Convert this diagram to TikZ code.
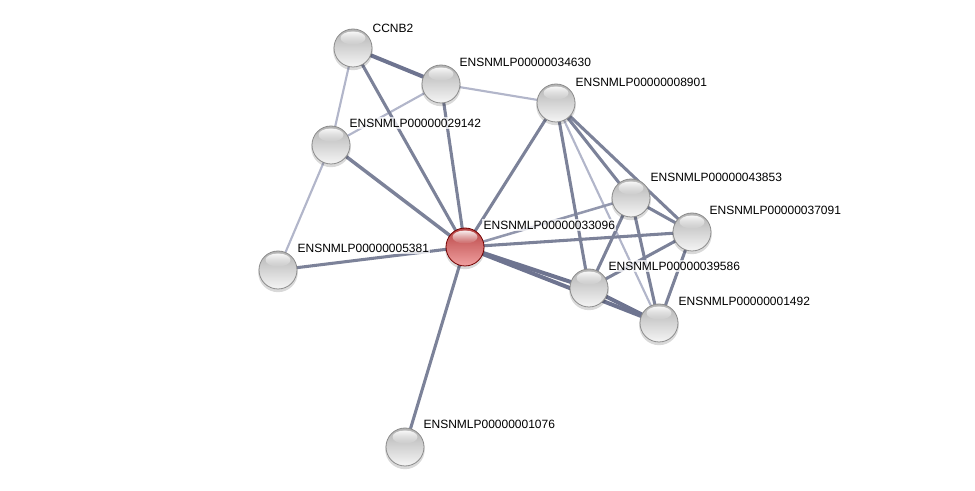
\documentclass[tikz,border=0pt]{standalone}
\usepackage{fontspec}
\setmainfont{Liberation Sans}
\usetikzlibrary{fadings}
\definecolor{estrong}{HTML}{6E7490}
\definecolor{emed}{HTML}{7C8299}
\definecolor{elight}{HTML}{B2B6CA}
\definecolor{rtop}{HTML}{B84444}
\definecolor{rmid}{HTML}{D46262}
\definecolor{rbot}{HTML}{F0A0A0}
\tikzset{
 nd/.style={circle,minimum size=28.5pt,inner sep=0pt,top color=black!30,middle color=black!15,bottom color=black!4,draw=black!45,line width=0.6pt},
 rednd/.style={circle,minimum size=28.5pt,inner sep=0pt,top color=rtop,middle color=rmid,bottom color=rbot,draw=red!45!black,line width=0.6pt},
 lbl/.style={anchor=west,font=\fontsize{9pt}{10pt}\selectfont,inner sep=1pt,fill=white,fill opacity=0.75,text opacity=1},
 es/.style={draw=estrong,line width=3pt},
 em/.style={draw=emed,line width=2.3pt},
 el/.style={draw=elight,line width=1.6pt},
 hl/.style={fill=white,path fading=south,fill opacity=0.9},
}
\begin{document}
\begin{tikzpicture}[x=0.75pt,y=-0.75pt]
\useasboundingbox (0,0) rectangle (975,491);
% coordinates
\coordinate (cc) at (353,48);
\coordinate (p34630) at (441,84);
\coordinate (p8901) at (556,103);
\coordinate (p29142) at (331,145);
\coordinate (p43853) at (631,198);
\coordinate (p37091) at (692,232);
\coordinate (p33096) at (465,247);
\coordinate (p5381) at (278,270);
\coordinate (p39586) at (589,288);
\coordinate (p1492) at (659,323);
\coordinate (p1076) at (405,447);
% edges
\draw[el] (cc) -- (p29142);
\draw[el] (p34630) -- (p29142);
\draw[el] (p34630) -- (p8901);
\draw[el] (p29142) -- (p5381);
\draw[el] (p8901) -- (p1492);
\draw[el,line width=1.9pt,draw=emed!60!elight] (p33096) -- (p43853);
\draw[es] (cc) -- (p34630);
\draw[em] (cc) -- (p33096);
\draw[em] (p34630) -- (p33096);
\draw[em,line width=2.6pt] (p29142) -- (p33096);
\draw[em] (p5381) -- (p33096);
\draw[em] (p33096) -- (p1076);
\draw[em] (p33096) -- (p8901);
\draw[em] (p33096) -- (p37091);
\draw[es] (p33096) -- (p39586);
\draw[es] (p33096) -- (p1492);
\draw[em] (p8901) -- (p43853);
\draw[em] (p8901) -- (p37091);
\draw[em] (p8901) -- (p39586);
\draw[em] (p43853) -- (p37091);
\draw[em] (p43853) -- (p39586);
\draw[em] (p43853) -- (p1492);
\draw[em] (p37091) -- (p39586);
\draw[em] (p37091) -- (p1492);
\draw[es] (p39586) -- (p1492);
% shadows
\foreach \p in {cc,p34630,p8901,p29142,p43853,p37091,p33096,p5381,p39586,p1492,p1076}
  \fill[black,opacity=0.15] ([yshift=-1.8]\p) circle (19.8);
% nodes
\node[nd] (CCNB2) at (cc) {};
\node[nd] (n34630) at (p34630) {};
\node[nd] (n8901) at (p8901) {};
\node[nd] (n29142) at (p29142) {};
\node[nd] (n43853) at (p43853) {};
\node[nd] (n37091) at (p37091) {};
\node[rednd] (n33096) at (p33096) {};
\node[nd] (n5381) at (p5381) {};
\node[nd] (n39586) at (p39586) {};
\node[nd] (n1492) at (p1492) {};
\node[nd] (n1076) at (p1076) {};
% highlights
\foreach \p in {cc,p34630,p8901,p29142,p43853,p37091,p33096,p5381,p39586,p1492,p1076}
  \path[hl] ([yshift=7.5]\p) ellipse (12.5 and 6.5);
% labels
\node[lbl] (l1) at (371,28) {CCNB2};
\node[lbl] (l2) at (458,62) {ENSNMLP00000034630};
\node[lbl] (l3) at (574,82) {ENSNMLP00000008901};
\node[lbl] (l4) at (348,123) {ENSNMLP00000029142};
\node[lbl] (l5) at (649,177) {ENSNMLP00000043853};
\node[lbl] (l6) at (708,210) {ENSNMLP00000037091};
\node[lbl] (l7) at (482,225) {ENSNMLP00000033096};
\node[lbl] (l8) at (296,248) {ENSNMLP00000005381};
\node[lbl] (l9) at (607,266) {ENSNMLP00000039586};
\node[lbl] (l10) at (677,301) {ENSNMLP00000001492};
\node[lbl] (l11) at (422,424) {ENSNMLP00000001076};
\end{tikzpicture}
\end{document}
